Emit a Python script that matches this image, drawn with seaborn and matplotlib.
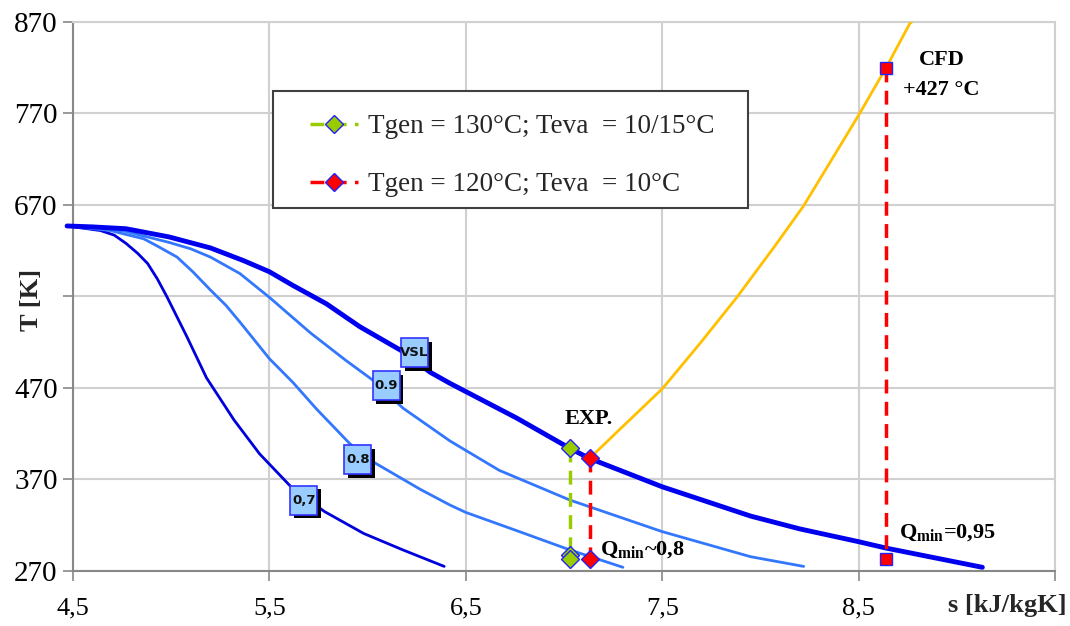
import matplotlib
matplotlib.use("Agg")
import matplotlib.pyplot as plt
import matplotlib.transforms as mtransforms
from matplotlib.patches import Rectangle
import seaborn as sns

# Saturated vapour line (VSL) and lines of constant quality for water, s [kJ/kgK], T [K]
vsl_s = [4.47, 4.60, 4.77, 4.99, 5.20, 5.37, 5.50, 5.62, 5.79, 5.96, 6.17, 6.32, 6.42, 6.76, 7.03, 7.13, 7.50, 7.95, 8.20, 8.50, 8.64, 9.13]
vsl_T = [647, 646, 644, 635, 623, 609, 597, 582, 562, 537, 511, 487, 475, 437, 404, 393, 362, 330, 316, 302, 295, 274]

q09_s = [4.47, 4.62, 4.77, 4.99, 5.10, 5.20, 5.35, 5.50, 5.71, 5.89, 6.03, 6.18, 6.42, 6.67, 7.03, 7.50, 7.95, 8.22]
q09_T = [647, 645.5, 641, 629, 622, 613, 595, 569, 530, 500, 478, 448, 412, 380, 347.5, 313, 285.6, 275]

q08_s = [4.47, 4.69, 4.86, 4.93, 5.03, 5.11, 5.20, 5.28, 5.35, 5.50, 5.62, 5.74, 5.91, 6.03, 6.27, 6.42, 6.50, 6.76, 7.03, 7.30]
q08_T = [647, 642, 633, 625, 613, 597, 577, 560, 542, 502, 476, 447, 409, 389, 359, 342, 334, 314, 293, 274]

q07_s = [4.47, 4.64, 4.71, 4.77, 4.83, 4.88, 4.93, 4.98, 5.08, 5.18, 5.32, 5.45, 5.61, 5.78, 5.98, 6.18, 6.39]
q07_T = [647, 642, 637, 628, 617, 606, 589, 569, 526, 481, 435, 398, 362, 335, 311, 293, 275]

# Expansion path from the saturated vapour state
exp_s = [7.13, 7.29, 7.50, 7.69, 7.88, 8.07, 8.22, 8.37, 8.50, 8.64, 8.76, 8.77]
exp_T = [393, 426, 469, 518, 569, 624, 669, 722, 768, 820, 868, 870]

# Operating points
g_s = [7.03, 7.03, 7.03]
g_T = [404, 288, 283]
r_s = [7.13, 7.13]
r_T = [393, 283]
cfd_s = [8.64, 8.64]
cfd_T = [820, 283]

legend_labels = ["Tgen = 130°C; Teva  = 10/15°C", "Tgen = 120°C; Teva  = 10°C"]
x_ticks = [4.5, 5.5, 6.5, 7.5, 8.5, 9.5]
x_ticklabels = ["4,5", "5,5", "6,5", "7,5", "8,5", ""]
y_ticks = [270, 370, 470, 570, 670, 770, 870]
y_ticklabels = ["270", "370", "470", "", "670", "770", "870"]

sns.set_theme(style="whitegrid")
plt.rcParams["font.family"] = ["Liberation Serif", "DejaVu Sans"]
plt.rcParams["mathtext.fontset"] = "custom"
plt.rcParams["mathtext.rm"] = "Liberation Serif"
plt.rcParams["mathtext.bf"] = "Liberation Serif:bold"

fig, ax = plt.subplots(figsize=(10.70, 6.26), dpi=100)
fig.subplots_adjust(left=0.0682, right=0.986, bottom=0.0879, top=0.965)
ax.set_facecolor("white")

grid_c = "#D0D0D0"
axis_c = "#888888"
smooth = dict(solid_joinstyle="round", solid_capstyle="round")

# Quality lines and VSL
sns.lineplot(x=q07_s, y=q07_T, sort=False, estimator=None, color="#0000DD", lw=2.0, ax=ax,
             clip_on=False, zorder=3, **smooth)
sns.lineplot(x=q08_s, y=q08_T, sort=False, estimator=None, color="#3377FF", lw=2.0, ax=ax,
             clip_on=False, zorder=3, **smooth)
sns.lineplot(x=q09_s, y=q09_T, sort=False, estimator=None, color="#3377FF", lw=2.0, ax=ax,
             clip_on=False, zorder=3, **smooth)
sns.lineplot(x=vsl_s, y=vsl_T, sort=False, estimator=None, color="#0000EE", lw=3.5, ax=ax,
             clip_on=False, zorder=4, **smooth)
sns.lineplot(x=exp_s, y=exp_T, sort=False, estimator=None, color="#FFC000", lw=2.0, ax=ax,
             zorder=3, **smooth)

# Operating point series
marker_kw = dict(markersize=9, markeredgecolor="#2222FF", markeredgewidth=1.0)
sns.lineplot(x=g_s, y=g_T, sort=False, estimator=None, color="#99CC00", lw=2.5, linestyle="--",
             marker="D", markerfacecolor="#99CC00", ax=ax, zorder=6, **marker_kw)
g_line = ax.lines[-1]
g_line.set_dashes((4, 2.4))
sns.lineplot(x=r_s, y=r_T, sort=False, estimator=None, color="#FF0000", lw=2.5, linestyle="--",
             marker="D", markerfacecolor="#FF0000", ax=ax, zorder=6, **marker_kw)
r_line = ax.lines[-1]
r_line.set_dashes((4, 2.4))
sns.lineplot(x=cfd_s, y=cfd_T, sort=False, estimator=None, color="#FF0000", lw=2.5, linestyle="--",
             marker="s", markerfacecolor="#FF0000", ax=ax, zorder=6, **marker_kw)
ax.lines[-1].set_dashes((4, 2.4))


def tag(s, T, text):
    """Boxed curve label with a drop shadow, sized in inches around (s, T)."""
    w, h = 0.27, 0.29
    tr = fig.dpi_scale_trans + mtransforms.ScaledTranslation(s, T, ax.transData)
    ax.add_patch(Rectangle((-w / 2 + 0.035, -h / 2 - 0.035), w, h, transform=tr,
                           fc="black", ec="none", zorder=7, clip_on=False))
    ax.add_patch(Rectangle((-w / 2, -h / 2), w, h, transform=tr,
                           fc="#99CCFF", ec="#3333FF", lw=1.2, zorder=8, clip_on=False))
    ax.text(s, T, text, ha="center", va="center", fontsize=9.5, fontweight="bold",
            family="DejaVu Sans", color="#111111", zorder=9)


tag(6.239, 508.5, "VSL")
tag(6.096, 472.4, "0.9")
tag(5.951, 391.6, "0.8")
tag(5.676, 347.2, "0,7")

bold = dict(fontsize=16, fontweight="bold", family="Liberation Serif", color="black", zorder=9)
ax.text(7.127, 435.9, "EXP.", ha="center", va="center", **bold)
ax.text(8.925, 828.8, "CFD", ha="center", va="center", **bold)
ax.text(8.92, 796, "+427 °C", ha="center", va="center", **bold)
ax.text(7.183, 292.5, r"Q$_{\mathbf{min}}$~0,8", ha="left", va="center", **bold)
ax.text(8.707, 311, r"Q$_{\mathbf{min}}$=0,95", ha="left", va="center", **bold)

ax.set_xlim(4.5, 9.5)
ax.set_ylim(270, 870)
ax.set_xticks(x_ticks)
ax.set_xticklabels(x_ticklabels)
ax.set_yticks(y_ticks)
ax.set_yticklabels(y_ticklabels)
ax.tick_params(axis="both", which="both", direction="out", length=7, width=1.2,
               color=axis_c, labelcolor="black")
ax.tick_params(axis="x", pad=12, labelsize=19, bottom=True)
ax.tick_params(axis="y", pad=4, labelsize=21, left=True)
ax.grid(True, color=grid_c, lw=1.5)
for side in ["left", "bottom"]:
    ax.spines[side].set_color(axis_c)
    ax.spines[side].set_linewidth(1.5)
for side in ["top", "right"]:
    ax.spines[side].set_color(grid_c)
    ax.spines[side].set_linewidth(1.5)

ax.set_xlabel("s [kJ/kgK]", fontsize=19, fontweight="bold", family="Liberation Serif")
ax.xaxis.label.set_ha("right")
ax.xaxis.label.set_va("center")
ax.xaxis.set_label_coords(1.012, -0.062)
ax.set_ylabel("T [K]", fontsize=19, fontweight="bold", family="Liberation Serif")
ax.yaxis.label.set_va("center")
ax.yaxis.set_label_coords(-0.042, 0.494)

# Legend: entries placed inside a separately drawn frame
ax.add_patch(Rectangle((0.2037, 0.661), 0.4837, 0.213, transform=ax.transAxes,
                       fc="white", ec="#404040", lw=1.5, zorder=9))
leg = ax.legend(handles=[g_line, r_line], labels=legend_labels, loc="upper left",
                bbox_to_anchor=(0.2413, 0.8315), borderaxespad=0, borderpad=0,
                frameon=False, prop={"family": "Liberation Serif", "size": 19.5},
                handlelength=1.78, handletextpad=0.37, labelspacing=1.21)
leg.set_zorder(10)

fig.savefig("out.png", dpi=100, facecolor="white")
